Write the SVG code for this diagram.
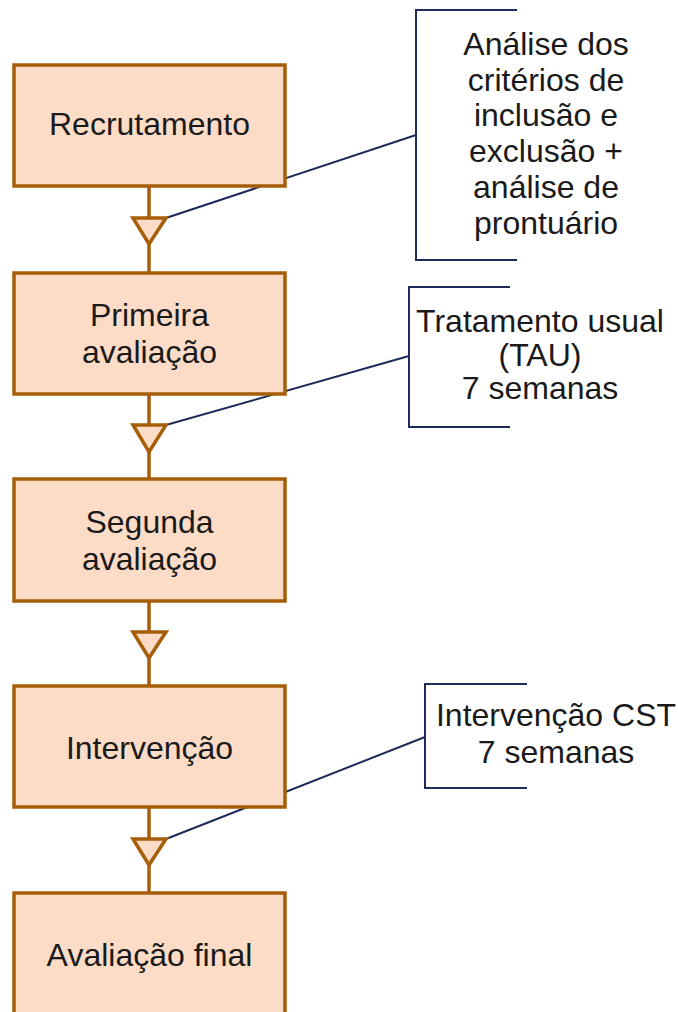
<svg xmlns="http://www.w3.org/2000/svg" width="678" height="1012" viewBox="0 0 678 1012">
<style>
.box{fill:#FDDCC7;stroke:#A65E08;stroke-width:3.5}
.tri{fill:#FDDCC7;stroke:#A65E08;stroke-width:3.5;stroke-linejoin:miter}
.stem{stroke:#A65E08;stroke-width:3.5;fill:none}
.lead{stroke:#1E2A5A;stroke-width:2;fill:none}
.brk{stroke:#1E2A5A;stroke-width:2;fill:none}
text{font-family:"Liberation Sans",Arial,sans-serif;font-size:32px;fill:#1a1a1a;text-anchor:middle}
</style>
<rect width="678" height="1012" fill="#ffffff"/>
<g id="connectors">
<line class="lead" x1="166" y1="218" x2="416" y2="135"/>
<line class="lead" x1="166" y1="425" x2="409" y2="356"/>
<line class="lead" x1="166" y1="839" x2="425" y2="737"/>
<line class="stem" x1="149" y1="186" x2="149" y2="273"/>
<line class="stem" x1="149" y1="394" x2="149" y2="479"/>
<line class="stem" x1="149" y1="601" x2="149" y2="686"/>
<line class="stem" x1="149" y1="807" x2="149" y2="893"/>
<polygon class="tri" points="133,218 166,218 149,244"/>
<polygon class="tri" points="133,425 166,425 149,452"/>
<polygon class="tri" points="133,632 166,632 149,658"/>
<polygon class="tri" points="133,839 166,839 149,865"/>
</g>
<g id="n1"><rect class="box" x="14" y="65" width="271" height="121"/><text x="149.5" y="135">Recrutamento</text></g>
<g id="n2"><rect class="box" x="14" y="273" width="271" height="121"/><text x="149.5" y="326">Primeira</text><text x="149.5" y="363">avaliação</text></g>
<g id="n3"><rect class="box" x="14" y="479" width="271" height="122"/><text x="149.5" y="533">Segunda</text><text x="149.5" y="570">avaliação</text></g>
<g id="n4"><rect class="box" x="14" y="686" width="271" height="121"/><text x="149.5" y="759">Intervenção</text></g>
<g id="n5"><rect class="box" x="14" y="893" width="271" height="140"/><text x="149.5" y="966">Avaliação final</text></g>
<g id="a1"><polyline class="brk" points="517,10 416,10 416,260 517,260"/>
<text x="546" y="55">Análise dos</text><text x="546" y="91">critérios de</text><text x="546" y="126">inclusão e</text><text x="546" y="162">exclusão +</text><text x="546" y="198">análise de</text><text x="546" y="234">prontuário</text></g>
<g id="a2"><polyline class="brk" points="510,287 409,287 409,427 510,427"/>
<text x="540" y="332">Tratamento usual</text><text x="540" y="366">(TAU)</text><text x="540" y="399">7 semanas</text></g>
<g id="a3"><polyline class="brk" points="527,684 425,684 425,788 527,788"/>
<text x="556" y="726">Intervenção CST</text><text x="556" y="763">7 semanas</text></g>
</svg>
